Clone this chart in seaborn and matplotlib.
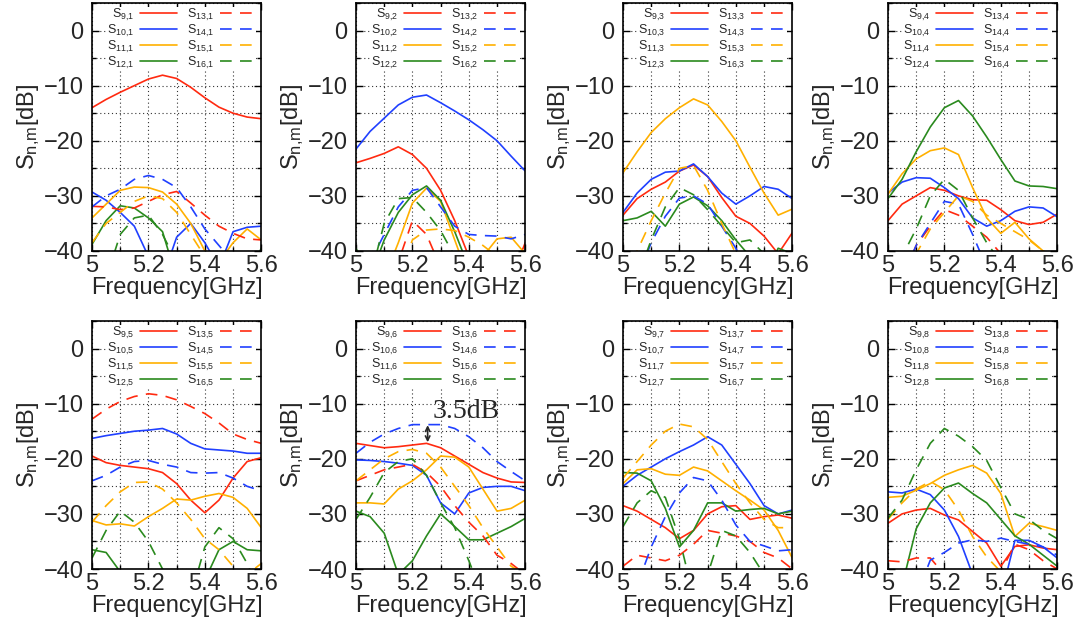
import numpy as np
import pandas as pd
import seaborn as sns
import matplotlib.pyplot as plt
from matplotlib.ticker import MultipleLocator, FixedLocator

sns.set_style("ticks")
plt.rcParams['font.family'] = ['Liberation Sans', 'DejaVu Sans']
plt.rcParams['mathtext.default'] = 'regular'

# frequency samples [GHz]
freq = [5.0, 5.05, 5.1, 5.15, 5.2, 5.25, 5.3, 5.35, 5.4, 5.45, 5.5, 5.55, 5.6]

# rows: S9..S16 ; values in dB (values < -40 are off the plot)
p1 = [
    [-14, -12.5, -11.2, -10.0, -8.8, -8.1, -8.7, -10.3, -12.2, -13.9, -15.0, -15.7, -16.0],
    [-29.3, -30.8, -33.0, -35.5, -41, -45, -37.5, -35.0, -38.5, -43, -36.5, -35.7, -35.5],
    [-34, -31.5, -29.0, -28.4, -28.5, -29.3, -31.5, -35, -40, -42, -38.5, -36, -38],
    [-38.8, -34.5, -31.8, -32.2, -34.0, -36.5, -45, -45, -45, -45, -45, -45, -39.5],
    [-31.9, -32.0, -32.5, -32.2, -31.0, -29.8, -29.2, -31.3, -33.5, -35.5, -36.8, -37.8, -38.0],
    [-32.0, -30.0, -28.8, -27.0, -26.3, -27.0, -28.5, -32.0, -36.0, -39.0, -42, -41, -41],
    [-38.5, -35.0, -33.0, -31.0, -30.0, -30.5, -33.0, -37.0, -41.0, -45, -45, -45, -45],
    [-45, -45, -37, -34, -33.5, -37, -42, -45, -45, -45, -45, -45, -45],
]
p2 = [
    [-24, -23.2, -22.3, -21.1, -22.5, -25, -29, -34.5, -41, -45, -45, -45, -38.5],
    [-21.5, -18.3, -15.9, -13.5, -12.1, -11.7, -13.1, -14.6, -16.2, -18.0, -20.0, -22.8, -25.5],
    [-45, -45, -45, -38.5, -31.3, -28.6, -31.0, -38.0, -45, -41, -37.8, -37.5, -40.5],
    [-39.5, -45, -38, -33, -29.8, -28.2, -30.8, -36.5, -43, -45, -45, -45, -45],
    [-45, -45, -45, -42, -34.5, -37, -43, -45, -45, -45, -45, -45, -45],
    [-45, -42, -37, -32, -29, -28.5, -32, -35.5, -37, -37.2, -37.3, -37.8, -37.0],
    [-45, -45, -45, -45, -38, -36.2, -36, -36.3, -37.5, -39, -41, -45, -45],
    [-45, -45, -35, -30.5, -30.3, -33, -36.3, -41, -45, -45, -45, -45, -45],
]
p3 = [
    [-33.5, -30.5, -28.8, -27.5, -25.5, -24.4, -26.5, -30.3, -33.7, -35.0, -37.3, -40.5, -36.7],
    [-33.0, -29.5, -27.0, -25.7, -25.5, -24.2, -26.5, -29.5, -31.5, -30.0, -28.3, -28.8, -30.5],
    [-25.8, -22.0, -18.5, -16.0, -14.0, -12.4, -13.5, -16.5, -20.0, -24.8, -29.5, -33.5, -32.4],
    [-34.5, -34.0, -32.8, -35.5, -31.5, -30.2, -31.8, -34.5, -38.0, -41, -45, -39.5, -40.5],
    [-45, -45, -45, -45, -45, -45, -45, -45, -45, -45, -45, -45, -45],
    [-45, -45, -38.5, -33.7, -30.4, -30.0, -31.5, -35.5, -39.5, -45, -45, -45, -45],
    [-45, -40, -34.5, -29.5, -25, -24.5, -29, -35, -40.5, -45, -45, -45, -45],
    [-45, -45, -38, -32, -28.5, -29.8, -32.5, -35.5, -38.5, -38, -40.5, -45, -45],
]
p4 = [
    [-34.5, -31.5, -30.0, -28.5, -29.0, -30.0, -30.7, -30.8, -32.5, -34.5, -35.2, -34.8, -33.3],
    [-29.5, -27.5, -26.7, -26.8, -28.5, -30.5, -34.0, -35.5, -34.5, -32.8, -32.0, -32.2, -33.8],
    [-29.7, -26.0, -23.3, -21.8, -21.3, -22.5, -28.5, -34.0, -36.8, -34.8, -37.8, -40.0, -41],
    [-30.5, -27.0, -22.0, -17.5, -14.0, -12.7, -15.5, -19.3, -23.4, -27.3, -28.2, -28.3, -28.7],
    [-45, -45, -39, -35.5, -32.5, -33.5, -35.5, -37.5, -40.5, -45, -45, -45, -45],
    [-45, -45, -39, -35, -31, -31.5, -37, -43, -45, -40.5, -45, -45, -45],
    [-45, -45, -40.5, -36, -33, -30, -31, -33.5, -35, -36.5, -38, -40, -41],
    [-45, -41, -36, -30, -27, -29, -34, -38.5, -42, -45, -45, -45, -45],
]
p5 = [
    [-19.5, -20.7, -21.2, -21.5, -21.8, -22.5, -24.5, -27.5, -29.8, -27.5, -23.5, -20.5, -19.8],
    [-16.3, -15.8, -15.4, -15.0, -14.8, -14.5, -15.5, -17.2, -18.2, -18.4, -18.6, -19.0, -19.0],
    [-31.2, -32.0, -31.8, -32.2, -30.5, -29.0, -27.3, -27.5, -26.8, -26.3, -27.0, -29.0, -32.5],
    [-36.5, -37.0, -40.5, -45, -45, -45, -45, -45, -42, -36.5, -35.0, -36.5, -36.7],
    [-12.8, -11.0, -9.6, -8.7, -8.2, -8.5, -9.3, -10.5, -11.8, -13.5, -15.5, -16.5, -17.2],
    [-24.0, -23.0, -21.5, -20.5, -20.3, -21.0, -21.5, -22.5, -22.6, -22.5, -23.5, -25.0, -25.8],
    [-31.5, -28.5, -26.0, -24.3, -24.2, -25.5, -28.0, -31.0, -34.5, -36.5, -39.5, -41, -39.0],
    [-38, -33, -29.5, -31.5, -35, -40, -45, -45, -36, -32.5, -34.5, -39, -45],
]
p6 = [
    [-17.2, -17.6, -18.0, -17.8, -17.5, -17.2, -18.0, -19.5, -21.0, -22.5, -23.5, -24.2, -24.3],
    [-20.2, -20.3, -20.5, -20.8, -21.2, -23.0, -28.0, -30.0, -26.2, -25.2, -25.0, -25.0, -25.8],
    [-28.0, -28.0, -28.2, -25.5, -24.0, -22.0, -19.5, -19.7, -21.5, -25.5, -29.5, -29.0, -27.5],
    [-29.5, -30.5, -33.5, -41, -38.5, -34.0, -30.0, -32.3, -34.7, -34.7, -33.5, -32.3, -30.8],
    [-24.0, -23.0, -22.0, -21.5, -21.0, -22.5, -25.0, -28.5, -31.5, -34.0, -37.5, -39.0, -41],
    [-19.0, -17.0, -15.5, -14.5, -13.8, -13.8, -13.8, -14.5, -16.0, -18.0, -20.5, -22.3, -24.0],
    [-24.0, -22.0, -20.0, -18.7, -18.3, -19.0, -21.5, -25.0, -28.5, -32.5, -36.0, -39.5, -41],
    [-31.0, -27.0, -22.5, -20.5, -20.0, -23.0, -28.0, -32.5, -38.5, -45, -45, -45, -45],
]
p7 = [
    [-28.5, -29.5, -31.0, -32.5, -34.5, -33.0, -30.0, -28.7, -28.5, -31.0, -30.5, -30.2, -30.8],
    [-25.0, -23.0, -21.5, -20.0, -18.7, -17.5, -16.0, -17.5, -21.0, -24.5, -28.5, -30.0, -29.3],
    [-24.5, -22.0, -21.8, -22.8, -23.0, -21.5, -22.2, -24.0, -25.8, -27.5, -29.3, -33.0, -38.0],
    [-22.5, -22.6, -24.0, -29.0, -36.0, -33.0, -28.0, -28.0, -29.5, -29.2, -29.0, -30.0, -29.5],
    [-39.5, -37.5, -38.0, -38.5, -37.5, -35.5, -33.0, -33.5, -34.0, -35.0, -37.0, -38.0, -40.0],
    [-45, -43, -36, -30.5, -26.2, -23.4, -24, -27.5, -32, -35, -35.8, -36.7, -36.5],
    [-23.5, -20.5, -17.5, -15.0, -13.7, -14.2, -16.5, -20.5, -24.5, -28.0, -31.0, -32.5, -32.5],
    [-32.3, -28.0, -25.8, -27.0, -34.5, -45, -41, -33.0, -34.0, -37.0, -41, -45, -45],
]
p8 = [
    [-31.7, -30.0, -29.3, -29.0, -30.2, -31.1, -33.2, -35.3, -39.5, -35.9, -35.6, -36.2, -36.5],
    [-26.0, -26.2, -25.5, -26.5, -29.3, -34.1, -41, -45, -45, -34.8, -34.8, -36.0, -38.0],
    [-27.0, -26.8, -25.7, -24.5, -23.0, -22.0, -21.2, -22.6, -26.3, -34.1, -31.7, -32.3, -33.0],
    [-45, -43, -32.7, -28.0, -25.3, -24.4, -26.3, -28.0, -31.0, -34.0, -35.5, -37.5, -39.5],
    [-38.5, -38.7, -38.0, -38.0, -41, -45, -45, -45, -40.5, -35.5, -36.5, -38.5, -40.0],
    [-45, -45, -45, -38.4, -37, -35.3, -34.7, -35.0, -34.4, -35.0, -35.5, -36.0, -37.5],
    [-31.0, -28.0, -25.5, -24.1, -25.6, -29.3, -34.1, -37.8, -40.5, -45, -45, -45, -45],
    [-30.8, -27.5, -22.0, -17.2, -14.5, -15.9, -17.8, -20.3, -25.2, -30.0, -31.0, -33.0, -34.5],
]
panels = [p1, p2, p3, p4, p5, p6, p7, p8]

n_rows = [9, 10, 11, 12, 13, 14, 15, 16]
colors = ['#ff2a10', '#2040ff', '#ffb000', '#2a8a1e']

fig = plt.figure(figsize=(10.85, 6.22), dpi=100)
lefts = [0.0848, 0.3281, 0.5742, 0.8184]
bottoms = [0.5965, 0.0852]

for k, data in enumerate(panels):
    m = k + 1
    ax = fig.add_axes([lefts[k % 4], bottoms[k // 4], 0.156, 0.3987])
    for i, vals in enumerate(data):
        ls = '-' if i < 4 else (0, (7, 5))
        sns.lineplot(x=freq, y=vals, ax=ax, color=colors[i % 4], lw=1.2,
                     linestyle=ls, label='$S_{%d{,}%d}$' % (n_rows[i], m))
    ax.set_xlim(5.0, 5.6)
    ax.set_ylim(-40, 5)
    ax.xaxis.set_major_locator(FixedLocator([5.0, 5.2, 5.4, 5.6]))
    ax.set_xticklabels(['5', '5.2', '5.4', '5.6'])
    ax.xaxis.set_minor_locator(MultipleLocator(0.1))
    ax.set_yticks([-40, -30, -20, -10, 0])
    ax.yaxis.set_minor_locator(MultipleLocator(5))
    ax.grid(which='both', color='0.2', ls=(0, (1, 2.5)), lw=0.8)
    ax.tick_params(which='both', direction='in', top=True, right=True,
                   labelsize=17, color='black')
    ax.tick_params(which='major', length=5, width=1)
    ax.tick_params(which='minor', length=3, width=1)
    ax.tick_params(axis='x', pad=3)
    ax.tick_params(axis='y', pad=6)
    for sp in ax.spines.values():
        sp.set_visible(True)
        sp.set_color('black')
        sp.set_linewidth(1.2)
    ax.set_xlabel('Frequency[GHz]', fontsize=17, labelpad=0)
    ax.set_ylabel('$S_{n{,}m}$[dB]', fontsize=17, labelpad=1)
    leg = ax.legend(loc='upper center', bbox_to_anchor=(0.53, 0.995), ncol=2,
                    fontsize=9, markerfirst=False, frameon=True,
                    facecolor='white', edgecolor='none', framealpha=1,
                    handlelength=2.9, handletextpad=0.5, columnspacing=0.8,
                    labelspacing=0.0, borderpad=0.0, borderaxespad=0.2)
    leg.get_frame().set_boxstyle('square', pad=0)
    leg.set_zorder(5)

    if m == 6:
        ax.annotate('', xy=(5.254, -13.9), xytext=(5.254, -17.0),
                    arrowprops=dict(arrowstyle='<->', color='0.15', lw=1.2,
                                    shrinkA=0, shrinkB=0, mutation_scale=8))
        ax.text(5.27, -11.4, '3.5dB', family='Liberation Serif', fontsize=20,
                va='center', ha='left')

fig.savefig('out.png', dpi=100)
